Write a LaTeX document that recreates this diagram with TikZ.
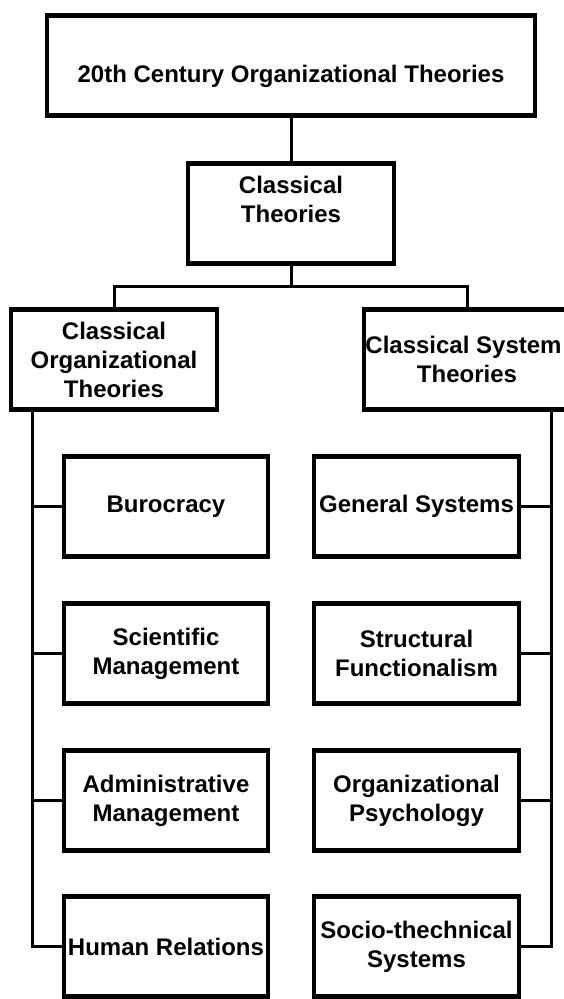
\documentclass[tikz,border=0pt]{standalone}
\usepackage{fontspec}
\setmainfont{Liberation Sans}
\usetikzlibrary{shadows}
\begin{document}
\begin{tikzpicture}[x=1pt,y=-1pt,
  box/.style={draw=black, fill=white, line width=4.5pt, rectangle,
    minimum height=100pt, align=center, inner sep=0pt,
    font=\fontsize{24}{29}\selectfont\bfseries,
    drop shadow={shadow xshift=1.5pt, shadow yshift=-2.5pt, opacity=.3, fill=black}},
  conn/.style={draw=black, line width=3pt}]
\useasboundingbox (0,0) rectangle (563,999);

\node[box, minimum width=488pt, text height=38pt, text depth=5pt] (top) at (291,65.5) {20th Century Organizational Theories};
\node[box, minimum width=206pt] (cls) at (291,213.5) {Classical\\Theories\\\mbox{}};
\node[box, minimum width=206pt] (cot) at (114,359.5) {Classical\\Organizational\\Theories};
\node[box, minimum width=206pt] (cst) at (467,359.5) {Classical System\hspace*{7pt}\\Theories};

\node[box, minimum width=204pt] (b1) at (166,506.5) {Burocracy};
\node[box, minimum width=204pt] (b2) at (166,653.5) {Scientific\\Management};
\node[box, minimum width=204pt] (b3) at (166,800.5) {Administrative\\Management};
\node[box, minimum width=204pt] (b4) at (166,946.5) {Human Relations};

\node[box, minimum width=205pt] (c1) at (416.5,506.5) {General Systems};
\node[box, minimum width=205pt] (c2) at (416.5,653.5) {Structural\\Functionalism};
\node[box, minimum width=205pt] (c3) at (416.5,800.5) {Organizational\\Psychology};
\node[box, minimum width=205pt] (c4) at (416.5,946.5) {Socio-thechnical\\Systems};

\coordinate (j) at (291,286);
\coordinate (lx) at (32,0);
\coordinate (rx) at (551,0);

\draw[conn] (top.south) -- (cls.north);
\draw[conn] (cls.south) -- (j);
\draw[conn] (cot.north) |- (j) -| (cst.north);

\draw[conn] (cot.south -| lx) -- (lx |- b4.west) -- (b4.west);
\draw[conn] (lx |- b1.west) -- (b1.west);
\draw[conn] (lx |- b2.west) -- (b2.west);
\draw[conn] (lx |- b3.west) -- (b3.west);

\draw[conn] (cst.south -| rx) -- (rx |- c4.east) -- (c4.east);
\draw[conn] (rx |- c1.east) -- (c1.east);
\draw[conn] (rx |- c2.east) -- (c2.east);
\draw[conn] (rx |- c3.east) -- (c3.east);
\end{tikzpicture}
\end{document}
